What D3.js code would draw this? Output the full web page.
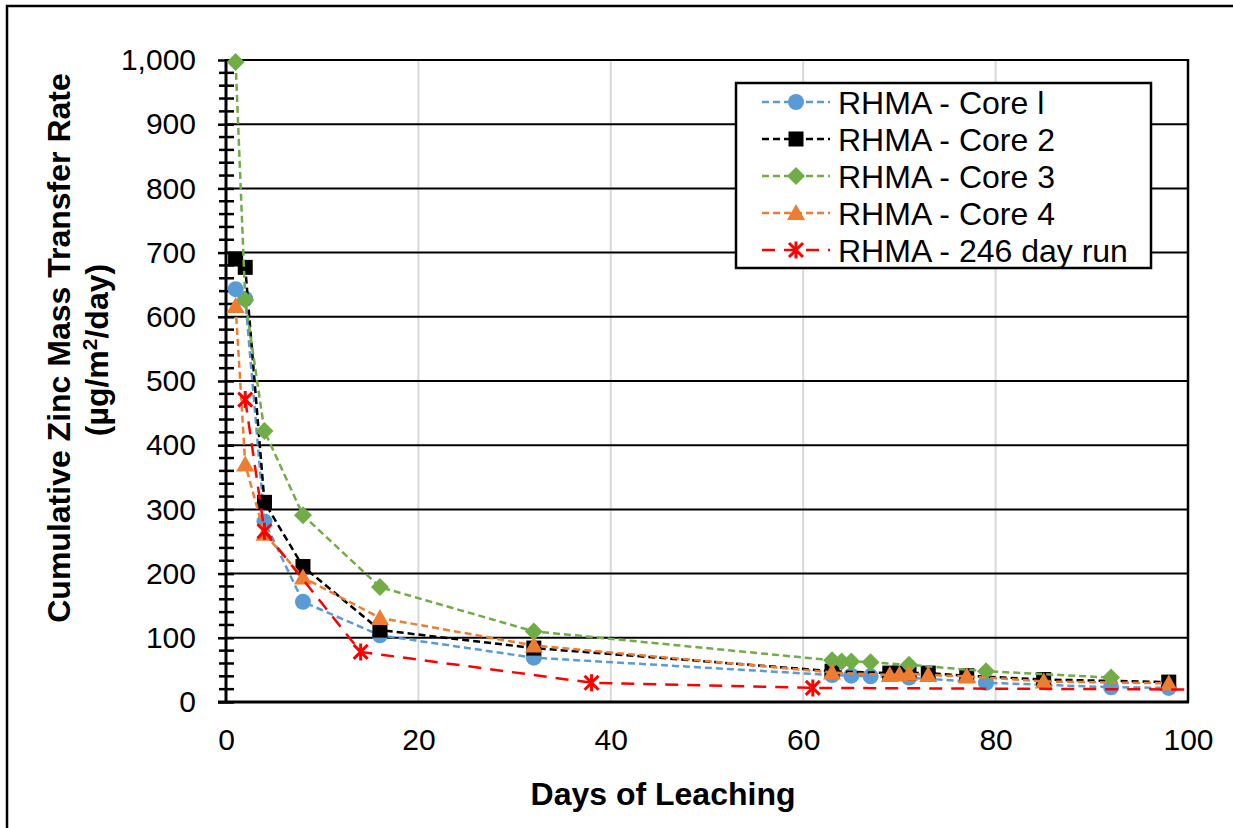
<!DOCTYPE html>
<html>
<head>
<meta charset="utf-8">
<script src="https://cdn.jsdelivr.net/npm/d3@7"></script>
<style>
  html, body { margin: 0; padding: 0; background: #fff; }
  svg { display: block; font-family: Arial, "Liberation Sans", sans-serif; }
</style>
</head>
<body>
<svg id="chart" width="1233" height="828"></svg>
<script>
// ---- Data ----
const xTicks = [0, 20, 40, 60, 80, 100];
const yTicks = [0, 100, 200, 300, 400, 500, 600, 700, 800, 900, 1000];

const core1Days = [1, 2, 4, 8, 16, 32, 63, 65, 67, 71, 79, 92, 98];
const core1Vals = [643, 628, 281, 156, 104, 69, 42, 41, 40, 38, 30, 23, 22];

const core2Days = [1, 2, 4, 8, 16, 32, 63, 69, 70, 71, 73, 77, 85, 98];
const core2Vals = [690, 677, 311, 211, 112, 84, 48, 45, 45, 45, 45, 41, 35, 31];

const core3Days = [1, 2, 4, 8, 16, 32, 63, 64, 65, 67, 71, 79, 92];
const core3Vals = [997, 626, 422, 291, 179, 110, 65, 63, 63, 62, 58, 48, 38];

const core4Days = [1, 2, 4, 8, 16, 32, 63, 69, 70, 71, 73, 77, 85, 98];
const core4Vals = [617, 370, 262, 194, 131, 88, 46, 42, 43, 44, 42, 40, 32, 29];

const run246Days = [2, 4, 14, 38, 61, 246];
const run246Vals = [471, 266, 78, 30, 22, 10];

const seriesNames = ["RHMA - Core l", "RHMA - Core 2", "RHMA - Core 3", "RHMA - Core 4", "RHMA - 246 day run"];

// ---- Styles ----
const styles = [
  { color: "#5B9BD5", marker: "circle", dash: "7,4" },
  { color: "#000000", marker: "square", dash: "7,4" },
  { color: "#70AD47", marker: "diamond", dash: "7,4" },
  { color: "#ED7D31", marker: "triangle", dash: "7,4" },
  { color: "#FF0000", marker: "star", dash: "13,9" }
];

const series = [
  { name: seriesNames[0], days: core1Days, vals: core1Vals },
  { name: seriesNames[1], days: core2Days, vals: core2Vals },
  { name: seriesNames[2], days: core3Days, vals: core3Vals },
  { name: seriesNames[3], days: core4Days, vals: core4Vals },
  { name: seriesNames[4], days: run246Days, vals: run246Vals }
].map((s, i) => Object.assign(s, styles[i], { pts: s.days.map((d, j) => [d, s.vals[j]]) }));

const svg = d3.select("#chart");
const L = 226, R = 1188, T = 60, B = 702;

const x = d3.scaleLinear().domain([0, 100]).range([L, R]);
const y = d3.scaleLinear().domain([0, 1000]).range([B, T]);

// outer border
svg.append("rect").attr("x", 7).attr("y", 6).attr("width", 1240).attr("height", 840)
  .attr("fill", "none").attr("stroke", "#000").attr("stroke-width", 2.5);

// vertical grid (light)
svg.append("g").selectAll("line").data(xTicks.filter(d => d > 0 && d < 100)).join("line")
  .attr("x1", d => x(d)).attr("x2", d => x(d)).attr("y1", T).attr("y2", B)
  .attr("stroke", "#D9D9D9").attr("stroke-width", 2);

// horizontal grid (black)
svg.append("g").selectAll("line").data(yTicks.filter(d => d > 0)).join("line")
  .attr("x1", L).attr("x2", R).attr("y1", d => y(d)).attr("y2", d => y(d))
  .attr("stroke", "#000").attr("stroke-width", 2);

// right border
svg.append("line").attr("x1", R).attr("x2", R).attr("y1", T - 1).attr("y2", B)
  .attr("stroke", "#000").attr("stroke-width", 2.5);

// y axis
const yAxis = d3.axisLeft(y).tickValues(yTicks).tickFormat(d3.format(",")).tickSize(8).tickPadding(22);
const gy = svg.append("g").attr("transform", `translate(${L},0)`).call(yAxis);
gy.select(".domain").remove();
gy.selectAll(".tick line").attr("stroke", "#000").attr("stroke-width", 2.5).attr("x1", 8).attr("x2", -8);
gy.selectAll(".tick text").attr("font-size", 30).attr("fill", "#000")
  .attr("font-family", "Arial, 'Liberation Sans', sans-serif");
// minor ticks
const minor = d3.range(0, 1001, 20).filter(v => v % 100 !== 0);
svg.append("g").selectAll("line").data(minor).join("line")
  .attr("x1", L - 7).attr("x2", L + 8).attr("y1", d => y(d)).attr("y2", d => y(d))
  .attr("stroke", "#000").attr("stroke-width", 2.5);
svg.append("line").attr("x1", L).attr("x2", L).attr("y1", T - 1).attr("y2", B + 1)
  .attr("stroke", "#000").attr("stroke-width", 3);

// x axis
const xAxis = d3.axisBottom(x).tickValues(xTicks).tickSize(0).tickPadding(27);
const gx = svg.append("g").attr("transform", `translate(0,${B})`).call(xAxis);
gx.select(".domain").remove();
gx.selectAll(".tick text").attr("font-size", 30).attr("fill", "#000")
  .attr("font-family", "Arial, 'Liberation Sans', sans-serif");
svg.append("line").attr("x1", L - 8).attr("x2", R + 1).attr("y1", B).attr("y2", B)
  .attr("stroke", "#000").attr("stroke-width", 3);

// axis titles
svg.append("text").attr("x", 663).attr("y", 805).attr("text-anchor", "middle")
  .attr("font-size", 32).attr("font-weight", "bold").text("Days of Leaching");
const yt1 = svg.append("text").attr("transform", "translate(70,348) rotate(-90)")
  .attr("text-anchor", "middle").attr("font-size", 32).attr("font-weight", "bold")
  .text("Cumulative Zinc Mass Transfer Rate");
const yt2 = svg.append("text").attr("transform", "translate(108,350) rotate(-90)")
  .attr("text-anchor", "middle").attr("font-size", 32).attr("font-weight", "bold");
yt2.append("tspan").text("(µg/m");
yt2.append("tspan").attr("font-size", 21).attr("dy", -11).text("2");
yt2.append("tspan").attr("dy", 11).text("/day)");

// clip
svg.append("clipPath").attr("id", "plotclip").append("rect")
  .attr("x", L).attr("y", T - 20).attr("width", R - L).attr("height", B - T + 40);

function drawMarker(g, type, color) {
  if (type === "circle") {
    g.append("circle").attr("r", 8).attr("fill", color);
  } else if (type === "square") {
    g.append("rect").attr("x", -7.5).attr("y", -7.5).attr("width", 15).attr("height", 15).attr("fill", color);
  } else if (type === "diamond") {
    g.append("path").attr("d", "M0,-9L9,0L0,9L-9,0Z").attr("fill", color);
  } else if (type === "triangle") {
    g.append("path").attr("d", "M0,-9L9,7L-9,7Z").attr("fill", color);
  } else if (type === "star") {
    g.append("path").attr("d", "M-7,-7L7,7M-7,7L7,-7M0,-8.5L0,8.5")
      .attr("stroke", color).attr("stroke-width", 3).attr("fill", "none");
  }
}

const line = d3.line().x(d => x(d[0])).y(d => y(d[1]));
const plot = svg.append("g").attr("clip-path", "url(#plotclip)");
series.forEach(s => {
  const g = plot.append("g");
  g.append("path").datum(s.pts).attr("d", line).attr("fill", "none")
    .attr("stroke", s.color).attr("stroke-width", 2.5).attr("stroke-dasharray", s.dash);
  s.pts.forEach(p => {
    const m = g.append("g").attr("transform", `translate(${x(p[0])},${y(p[1])})`);
    drawMarker(m, s.marker, s.color);
  });
});

// legend
const lg = svg.append("g");
lg.append("rect").attr("x", 736).attr("y", 83).attr("width", 415).attr("height", 185)
  .attr("fill", "#fff").attr("stroke", "#000").attr("stroke-width", 2.5);
series.forEach((s, i) => {
  const cy = 102 + i * 37;
  lg.append("line").attr("x1", 762).attr("x2", 830).attr("y1", cy).attr("y2", cy)
    .attr("stroke", s.color).attr("stroke-width", 2.5).attr("stroke-dasharray", s.dash);
  const m = lg.append("g").attr("transform", `translate(796,${cy})`);
  drawMarker(m, s.marker, s.color);
  lg.append("text").attr("x", 838).attr("y", cy + 11.5).attr("font-size", 32).text(s.name);
});
</script>
</body>
</html>
